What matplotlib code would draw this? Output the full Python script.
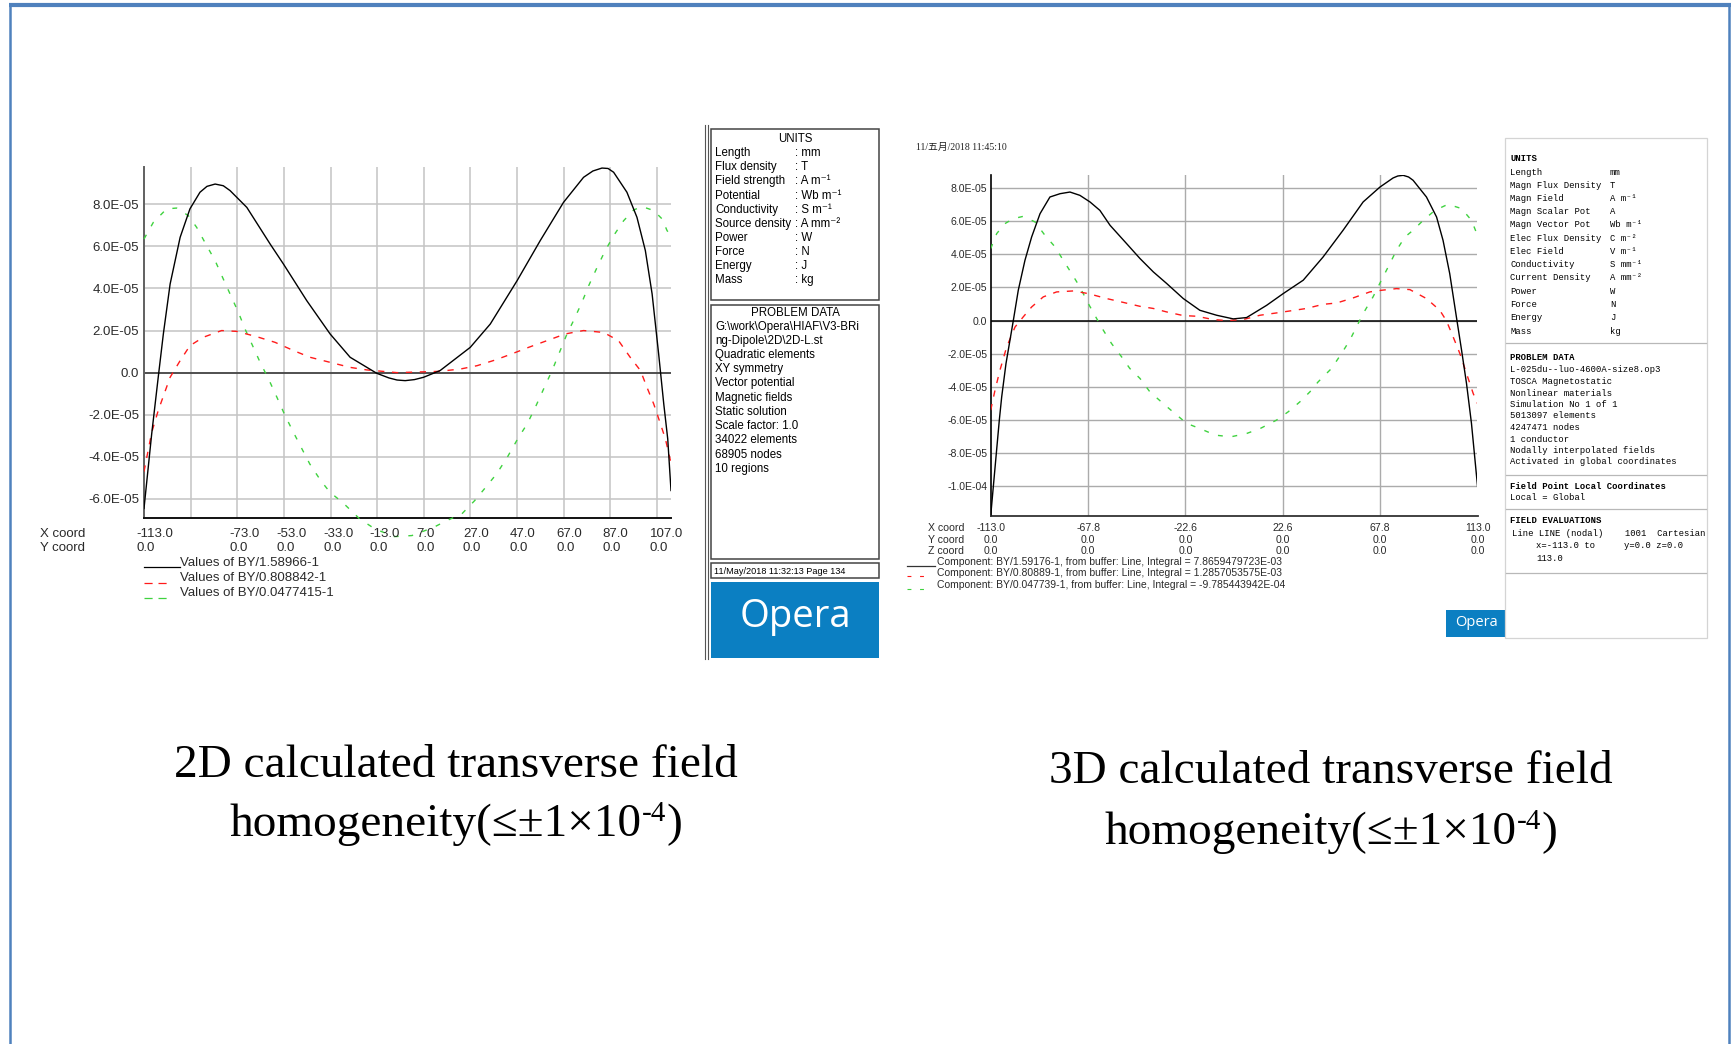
import matplotlib
matplotlib.use("Agg")
import numpy as np
import matplotlib.pyplot as plt
from matplotlib.lines import Line2D
from matplotlib.patches import Rectangle
from matplotlib.transforms import blended_transform_factory, ScaledTranslation

W, H = 1733, 1044
DPI = 100

SANS = ["Liberation Sans", "DejaVu Sans"]
SERIF = ["Liberation Serif", "DejaVu Serif"]
MONO = ["Liberation Mono", "DejaVu Sans Mono"]

# ---- 2D solution: BY deviation along x (mm), values in units of 1e-5 ----
x2d_a = [-113, -109.7, -106.9, -104.7, -101.8, -97.5, -93.3, -89, -86, -82.5, -79,
         -76.1, -68.9, -58.9, -53.2, -43.2, -33.2, -24.6, -13.2, -8, -4.5, -1, 3,
         6.9, 14.0, 26.9, 35.5, 47, 56.9, 66.9, 75.5, 79.5, 83.4, 86, 88.4, 94.1,
         98.4, 102, 104.9, 107.7, 109.9, 111.6, 113]
by2d_a = [-6.45, -2.91, -0.22, 1.84, 4.21, 6.43, 7.78, 8.57, 8.85, 8.96, 8.88,
          8.65, 7.85, 6.11, 5.16, 3.42, 1.84, 0.73, -0.03, -0.25, -0.35, -0.38, -0.33,
          -0.22, 0.1, 1.2, 2.31, 4.37, 6.27, 8.09, 9.28, 9.58, 9.72, 9.7, 9.52, 8.57,
          7.38, 5.8, 3.74, 0.89, -1.49, -3.15, -5.6]

x2d_b = [-113, -109.7, -106.9, -101.8, -97.5, -93.3, -87.6, -79.7, -73.2, -64.7,
         -56.8, -48.9, -41.8, -33.2, -24.6, -17.5, -4.5, 13.3, 22.6, 29.8, 37.6,
         44.7, 51.9, 59.8, 67.7, 75.5, 84.1, 90.5, 95.5, 99.9, 102.7, 105.6,
         108.5, 110.6, 113]
by2d_b = [-4.7, -2.84, -1.8, -0.22, 0.57, 1.28, 1.68, 2.0, 1.96, 1.71,
          1.44, 1.05, 0.73, 0.49, 0.25, 0.13, 0.0, 0.06, 0.17, 0.33, 0.6,
          0.89, 1.2, 1.52, 1.84, 2.0, 1.91, 1.52, 0.73, 0.1, -0.7, -1.49,
          -2.44, -3.15, -4.3]

x2d_c = [-113, -109, -103.3, -99, -94, -90.4, -86.1, -82.5, -79, -76.1, -72.5,
         -69.7, -66.1, -63.2, -59.6, -56, -52.5, -48.9, -45.6, -41.9, -37.2,
         -33.2, -27.9, -20.5, -13.9, -5.6, 1.9, 11.2, 16.8, 23.3, 28.8, 33.5,
         38.2, 42.8, 47.5, 51.3, 54.8, 58.4, 62, 65.5, 68.4, 71.2, 74.8, 77.7,
         81.3, 84.8, 88.4, 92.7, 97, 100.6, 105.6, 109.2, 111.3, 113]
by2d_c = [6.35, 7.14, 7.78, 7.82, 7.46, 6.9, 6.03, 5.32, 4.45, 3.74, 2.86,
          2.08, 1.2, 0.49, -0.3, -1.17, -2.04, -2.84, -3.55, -4.34, -5.13,
          -5.69, -6.16, -6.95, -7.43, -7.79, -7.74, -7.35, -7.03, -6.71, -6.08, -5.45,
          -4.81, -4.02, -3.1, -2.44, -1.65, -0.77, 0.1, 1.05, 1.84, 2.47, 3.34, 4.13,
          5.0, 5.8, 6.51, 7.22, 7.73, 7.89, 7.7, 7.3, 6.75, 6.5]

labels_2d = ["Values of BY/1.58966-1", "Values of BY/0.808842-1",
             "Values of BY/0.0477415-1"]
xgrid_2d = [-93, -73, -53, -33, -13, 7, 27, 47, 67, 87, 107]
xlab_2d = [-113, -73, -53, -33, -13, 7, 27, 47, 67, 87, 107]
yticks_2d = [-6e-5, -4e-5, -2e-5, 0, 2e-5, 4e-5, 6e-5, 8e-5]
ylab_2d = ["-6.0E-05", "-4.0E-05", "-2.0E-05", "0.0", "2.0E-05", "4.0E-05",
           "6.0E-05", "8.0E-05"]

# ---- 3D solution ----
x3d_a = [-113, -109, -107.9, -105.9, -102.5, -100.2, -97.1, -94, -90.1, -85.5,
         -80.8, -76.2, -71.6, -66.9, -62.3, -57.6, -49.9, -43.7, -37.5, -31.3,
         -23.6, -15.9, -8.1, -0.4, 5.8, 15.1, 22.8, 32.1, 41.3, 50.6, 59.9, 67.7,
         73.8, 76, 78.5, 81, 83.1, 89.3, 94, 97, 100.1, 103.2, 105.6, 107.9, 110.2, 113]
by3d_a = [-11.8, -6.02, -4.62, -2.6, 0, 1.83, 3.64, 5.05, 6.46, 7.47,
          7.67, 7.77, 7.57, 7.17, 6.66, 5.76, 4.65, 3.75, 2.94, 2.24,
          1.33, 0.62, 0.32, 0.1, 0.18, 0.92, 1.63, 2.44, 3.84, 5.46, 7.17, 8.07,
          8.62, 8.74, 8.78, 8.68, 8.48, 7.47, 6.26, 4.85, 2.84, 0.22, -1.79, -3.81,
          -6.22, -10.0]

x3d_b = [-113, -111, -108.7, -105.6, -101.7, -97.9, -94, -88.6, -82.4, -74.7,
         -67.7, -59.2, -52.2, -43.7, -37.5, -31.3, -23.6, -17.4, -9.7, -3.5, 4.2,
         12, 19.7, 25.9, 33.6, 41.3, 47.6, 55.3, 63, 68.4, 75.4, 81.6, 89.3, 95.5,
         98.6, 101.7, 104.8, 107.9, 111, 113]
by3d_b = [-5.42, -4.21, -3.0, -1.6, -0.39, 0.22, 0.82, 1.43, 1.73, 1.79,
          1.63, 1.33, 1.12, 0.86, 0.73, 0.52, 0.3, 0.26, 0.06, 0, 0.06,
          0.32, 0.46, 0.58, 0.73, 0.98, 1.06, 1.37, 1.73, 1.83, 1.93, 1.87, 1.33, 0.62,
          -0.02, -0.99, -1.99, -3.2, -4.41, -5.02]

x3d_c = [-113, -110.2, -106.4, -102.5, -97.9, -92.4, -87.8, -83.1, -79.3, -75.4,
         -71.6, -67.7, -63.8, -60.7, -56.9, -52.2, -48.4, -43.7, -39.1, -32.9,
         -27.5, -22, -15.9, -8.7, -1.5, 5.8, 12.1, 19.7, 25.1, 30.5, 35.2, 39,
         45.2, 49.9, 53.7, 56.8, 59.9, 64.5, 68.4, 72.3, 75.4, 79.3, 83.1, 87.8,
         93.2, 99.3, 105.6, 110.2, 113]
by3d_c = [4.35, 5.26, 5.86, 6.16, 6.3, 5.96, 5.15, 4.45, 3.64, 2.84,
          2.03, 1.03, 0.12, -0.59, -1.39, -2.2, -2.9, -3.5, -4.31, -5.02,
          -5.62, -6.22, -6.53, -6.93, -7.03, -6.83, -6.53, -6.02, -5.52, -4.92, -4.31, -3.71,
          -2.9, -1.99, -1.19, -0.39, 0.42, 1.43, 2.44, 3.44, 4.25, 5.05, 5.46, 6.06,
          6.66, 7.03, 6.77, 6.06, 5.15]

labels_3d = ["Component: BY/1.59176-1, from buffer: Line, Integral = 7.8659479723E-03",
             "Component: BY/0.80889-1, from buffer: Line, Integral = 1.2857053575E-03",
             "Component: BY/0.047739-1, from buffer: Line, Integral = -9.785443942E-04"]
xgrid_3d = [-67.8, -22.6, 22.6, 67.8, 113]
xlab_3d = [-113.0, -67.8, -22.6, 22.6, 67.8, 113.0]
yticks_3d = [-1e-4, -8e-5, -6e-5, -4e-5, -2e-5, 0, 2e-5, 4e-5, 6e-5, 8e-5]
ylab_3d = ["-1.0E-04", "-8.0E-05", "-6.0E-05", "-4.0E-05", "-2.0E-05", "0.0",
           "2.0E-05", "4.0E-05", "6.0E-05", "8.0E-05"]

units_2d = [("Length", "mm"), ("Flux density", "T"), ("Field strength", "A m\u207b\u00b9"),
            ("Potential", "Wb m\u207b\u00b9"), ("Conductivity", "S m\u207b\u00b9"),
            ("Source density", "A mm\u207b\u00b2"), ("Power", "W"), ("Force", "N"),
            ("Energy", "J"), ("Mass", "kg")]
problem_2d = ["G:\\work\\Opera\\HIAF\\V3-BRi", "ng-Dipole\\2D\\2D-L.st",
              "Quadratic elements", "XY symmetry", "Vector potential",
              "Magnetic fields", "Static solution", "Scale factor: 1.0",
              "34022 elements", "68905 nodes", "10 regions"]

units_3d = [("Length", "mm"), ("Magn Flux Density", "T"), ("Magn Field", "A m\u207b\u00b9"),
            ("Magn Scalar Pot", "A"), ("Magn Vector Pot", "Wb m\u207b\u00b9"),
            ("Elec Flux Density", "C m\u207b\u00b2"), ("Elec Field", "V m\u207b\u00b9"),
            ("Conductivity", "S mm\u207b\u00b9"), ("Current Density", "A mm\u207b\u00b2"),
            ("Power", "W"), ("Force", "N"), ("Energy", "J"), ("Mass", "kg")]
problem_3d = ["L-025du--luo-4600A-size8.op3", "TOSCA Magnetostatic",
              "Nonlinear materials", "Simulation No 1 of 1", "5013097 elements",
              "4247471 nodes", "1 conductor", "Nodally interpolated fields",
              "Activated in global coordinates"]

RED = "#ff1a1a"
GREEN = "#3fd23f"
RED_DASH = (0, (4.5, 5.5))
GREEN_DASH = (0, (3.5, 7.0))

fig = plt.figure(figsize=(W / DPI, H / DPI), dpi=DPI)
fig.patch.set_facecolor("white")


def fx(x):
    return x / W


def fy(y):
    return 1 - y / H


def ftext(x, y, s, **kw):
    kw.setdefault("va", "center")
    return fig.text(fx(x), fy(y), s, **kw)


def fline(xs, ys, **kw):
    fig.add_artist(Line2D([fx(x) for x in xs], [fy(y) for y in ys],
                          transform=fig.transFigure, **kw))


def frect(x0, y0, x1, y1, **kw):
    fig.add_artist(Rectangle((fx(x0), fy(y1)), fx(x1) - fx(x0), fy(y0) - fy(y1),
                             transform=fig.transFigure, **kw))


def make_axes(x0, y0, x1, y1):
    return fig.add_axes([fx(x0), fy(y1), fx(x1) - fx(x0), fy(y0) - fy(y1)])


# blue slide frame
fline([9, 1731], [5, 5], color="#4f81bd", lw=3.0, solid_capstyle="butt")
fline([10, 10], [5, 1044], color="#4f81bd", lw=1.8)
fline([1729, 1729], [5, 1044], color="#4f81bd", lw=1.8)

# ================= 2D chart =================
ax1 = make_axes(144, 167, 671, 518.3)
ax1.set_xlim(-113, 113)
ax1.set_ylim(-6.92e-5, 9.77e-5)
ax1.set_xticks(xgrid_2d)
ax1.set_xticklabels([])
ax1.set_yticks(yticks_2d)
ax1.set_yticklabels(ylab_2d, fontsize=9.5, family=SANS, color="#2a2a2a")
ax1.tick_params(length=0, pad=3.6)
ax1.grid(True, color="#c4c4c4", lw=1.1)
ax1.set_axisbelow(True)
for side in ("top", "right"):
    ax1.spines[side].set_visible(False)
ax1.spines["left"].set_color("#606060")
ax1.spines["left"].set_linewidth(1.4)
ax1.spines["bottom"].set_color("#111111")
ax1.spines["bottom"].set_linewidth(1.4)
ax1.axhline(0, color="#3a3a3a", lw=1.2, zorder=1.5)

ax1.plot(x2d_c, np.array(by2d_c) * 1e-5, color=GREEN, lw=1.0, ls=GREEN_DASH,
         clip_on=False, zorder=3)
ax1.plot(x2d_b, np.array(by2d_b) * 1e-5, color=RED, lw=1.0, ls=RED_DASH, zorder=3)
ax1.plot(x2d_a, np.array(by2d_a) * 1e-5, color="black", lw=1.0, zorder=4)

# coordinate rows under the 2D chart
tr1 = blended_transform_factory(ax1.transData, fig.transFigure) + \
    ScaledTranslation(-7.5 / DPI, 0, fig.dpi_scale_trans)
ftext(40, 534, "X coord", fontsize=9.5, family=SANS, color="#2a2a2a")
ftext(40, 548, "Y coord", fontsize=9.5, family=SANS, color="#2a2a2a")
for v in xlab_2d:
    fig.text(v, fy(534), f"{v:.1f}", transform=tr1, fontsize=9.5, family=SANS,
             color="#2a2a2a", va="center", ha="left")
    fig.text(v, fy(548), "0.0", transform=tr1, fontsize=9.5, family=SANS,
             color="#2a2a2a", va="center", ha="left")

# legend of the 2D chart
fline([144, 180], [567, 567], color="black", lw=0.9)
fline([144, 170], [583, 583], color=RED, lw=0.9, ls=(0, (6.5, 4.7)))
fline([144, 170], [598, 598], color=GREEN, lw=0.9, ls=(0, (6.5, 4.7)))
for i, lab in enumerate(labels_2d):
    ftext(180.5, 563 + 15 * i, lab, fontsize=9.5, family=SANS, color="#2a2a2a")

# ---- 2D info panel ----
fline([705.5, 705.5], [125, 659], color="#555555", lw=0.8)
fline([708, 708], [125, 659], color="#555555", lw=0.8)
frect(711, 129, 879, 300, fill=False, ec="#444444", lw=1.1)
ftext(795, 138.5, "UNITS", fontsize=8.3, family=SANS, ha="center")
for i, (name, unit) in enumerate(units_2d):
    y = 153.3 + 14.07 * i
    ftext(715, y, name, fontsize=8.3, family=SANS)
    ftext(795.5, y, ": " + unit, fontsize=8.3, family=SANS)

frect(711, 305, 879, 559, fill=False, ec="#444444", lw=1.1)
ftext(795, 313, "PROBLEM DATA", fontsize=8.3, family=SANS, ha="center")
for i, line in enumerate(problem_2d):
    ftext(715, 326.7 + 14.2 * i, line, fontsize=8.3, family=SANS)

frect(711, 563.3, 879, 578.3, fill=False, ec="#444444", lw=1.1)
ftext(714, 571, "11/May/2018 11:32:13 Page 134", fontsize=6.6, family=SANS)
frect(711, 582, 879, 658, color="#0b7fc2", lw=0)
ftext(795, 617, "Opera", fontsize=27.5, family=["Open Sans", "DejaVu Sans"],
      color="white", ha="center")

# ================= 3D chart =================
ftext(916.5, 147.7, "11/五月/2018 11:45:10", fontsize=7,
      family=["Liberation Serif", "Noto Sans CJK SC"], color="#222222")

ax2 = make_axes(990.7, 175, 1477.5, 515.7)
ax2.set_xlim(-113, 113)
ax2.set_ylim(-1.18e-4, 8.8e-5)
ax2.set_xticks(xgrid_3d)
ax2.set_xticklabels([])
ax2.set_yticks(yticks_3d)
ax2.set_yticklabels(ylab_3d, fontsize=7.6, family=SANS, color="#2a2a2a")
ax2.tick_params(length=0, pad=2.5)
ax2.grid(True, color="#ababab", lw=1.0)
ax2.set_axisbelow(True)
for side in ("top", "right"):
    ax2.spines[side].set_visible(False)
ax2.spines["left"].set_color("black")
ax2.spines["left"].set_linewidth(1.2)
ax2.spines["bottom"].set_color("#333333")
ax2.spines["bottom"].set_linewidth(1.3)
ax2.axhline(0, color="black", lw=1.1, zorder=1.5)

ax2.plot(x3d_c, np.array(by3d_c) * 1e-5, color=GREEN, lw=1.0, ls=GREEN_DASH, zorder=3)
ax2.plot(x3d_b, np.array(by3d_b) * 1e-5, color=RED, lw=1.0, ls=RED_DASH, zorder=3)
ax2.plot(x3d_a, np.array(by3d_a) * 1e-5, color="black", lw=1.0, zorder=4)

tr2 = blended_transform_factory(ax2.transData, fig.transFigure)
for j, (row, y) in enumerate(zip(["X coord", "Y coord", "Z coord"], [528.3, 539.7, 551])):
    ftext(964, y, row, fontsize=7.6, family=SANS, color="#2a2a2a", ha="right")
    for v in xlab_3d:
        s = f"{v:.1f}" if j == 0 else "0.0"
        fig.text(v, fy(y), s, transform=tr2, fontsize=7.6, family=SANS,
                 color="#2a2a2a", va="center", ha="center")

fline([907, 935], [565.7, 565.7], color="#333333", lw=0.9)
fline([907, 928], [576, 576], color=RED, lw=0.8, ls=(0, (3.5, 7.8)))
fline([907, 928], [589.3, 589.3], color=GREEN, lw=0.8, ls=(0, (3.5, 7.8)))
for i, lab in enumerate(labels_3d):
    ftext(937, 561.7 + 11.7 * i, lab, fontsize=7.5, family=SANS, color="#2a2a2a")

frect(1446.5, 610, 1506.5, 636.7, color="#0b7fc2", lw=0)
ftext(1476.5, 623, "Opera", fontsize=10.5, family=["Open Sans", "DejaVu Sans"],
      color="white", ha="center")

# ---- 3D info panel ----
frect(1505, 138.3, 1707, 638.3, fill=False, ec="#d4d4d4", lw=0.9)
ftext(1510.5, 158.3, "UNITS", fontsize=6.4, family=MONO, weight="bold")
for i, (name, unit) in enumerate(units_3d):
    y = 172 + 13.25 * i
    ftext(1510.5, y, name, fontsize=6.4, family=MONO)
    ftext(1610, y, unit, fontsize=6.4, family=MONO)
fline([1506, 1706], [343, 343], color="#b8b8b8", lw=0.9)
ftext(1510.5, 357, "PROBLEM DATA", fontsize=6.4, family=MONO, weight="bold")
for i, line in enumerate(problem_3d):
    ftext(1510.5, 370 + 11.5 * i, line, fontsize=6.4, family=MONO)
fline([1506, 1706], [475, 475], color="#b8b8b8", lw=0.9)
ftext(1510.5, 486.7, "Field Point Local Coordinates", fontsize=6.4, family=MONO,
      weight="bold")
ftext(1510.5, 497.5, "Local = Global", fontsize=6.4, family=MONO)
fline([1506, 1706], [509.3, 509.3], color="#b8b8b8", lw=0.9)
ftext(1510.5, 520.7, "FIELD EVALUATIONS", fontsize=6.4, family=MONO, weight="bold")
ftext(1511.5, 533.3, "Line LINE (nodal)    1001  Cartesian", fontsize=6.4, family=MONO)
ftext(1536, 545.5, "x=-113.0 to", fontsize=6.4, family=MONO)
ftext(1624, 545.5, "y=0.0 z=0.0", fontsize=6.4, family=MONO)
ftext(1536, 558.5, "113.0", fontsize=6.4, family=MONO)
fline([1506, 1706], [572.7, 572.7], color="#b8b8b8", lw=0.9)

# ================= captions =================
renderer = fig.canvas.get_renderer()


def caption(cx, y1, y2, head):
    ftext(cx, y1, head + " calculated transverse field", fontsize=34, family=SERIF,
          ha="center")
    parts = [("homogeneity(\u2264\u00b11\u00d710", 34, 0), ("-4", 21, -11), (")", 34, 0)]
    items = [ftext(0, y2 + dy, s, fontsize=fs, family=SERIF, ha="left")
             for s, fs, dy in parts]
    widths = [t.get_window_extent(renderer).width for t in items]
    x = cx - sum(widths) / 2
    for t, w, (s, fs, dy) in zip(items, widths, parts):
        t.set_position((fx(x), fy(y2 + dy)))
        x += w


caption(456, 766, 825, "2D")
caption(1331, 772, 833, "3D")

fig.savefig("out.png", dpi=DPI, facecolor="white")
